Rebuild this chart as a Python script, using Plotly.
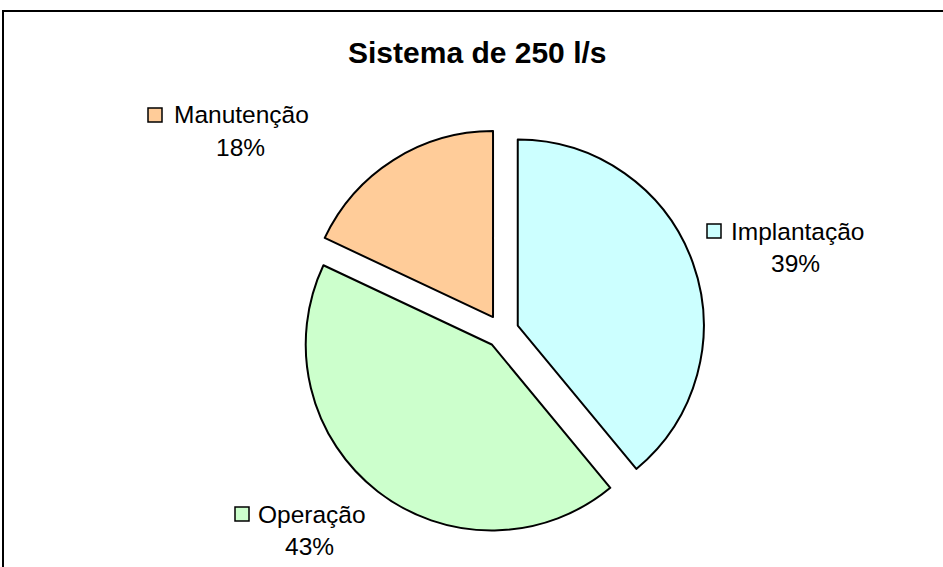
import plotly.graph_objects as go

# ---- data ----
categories = ["Implantação", "Operação", "Manutenção"]
values = [39, 43, 18]
colors = ["#CCFFFF", "#CCFFCC", "#FFCC99"]
title_text = "Sistema de 250 l/s"

W, H = 943, 567
total = sum(values)
percents = [f"{round(v / total * 100)}%" for v in values]


def px(x):
    return x / W


def py(y):
    return 1 - y / H


fig = go.Figure()
fig.add_trace(go.Pie(
    labels=categories,
    values=values,
    sort=False,
    direction="clockwise",
    rotation=0,
    pull=[0.09, 0.09, 0.09],
    marker=dict(colors=colors, line=dict(color="black", width=2)),
    textinfo="none",
    hoverinfo="label+percent",
    showlegend=False,
    domain=dict(x=[px(252), px(752)], y=[py(534), py(128.5)]),
))

# label layout (positions in pixels): key square, line-1 text start, line-2 center
label_layout = [
    # (square x0, square y0, text x, line1 y mid, line2 x center, line2 y mid)
    (707, 224, 729, 231, 795, 263),
    (235, 507, 256, 514, 309, 546),
    (148, 108, 172, 114, 241, 147),
]

font_family = "Liberation Sans, Arial, sans-serif"
annotations = []
shapes = []
for (sx, sy, tx, ty, cx, cy), lab, pct, col in zip(label_layout, categories, percents, colors):
    shapes.append(dict(type="rect", xref="paper", yref="paper",
                       x0=px(sx), x1=px(sx + 14), y0=py(sy), y1=py(sy + 14),
                       fillcolor=col, line=dict(color="black", width=1.5)))
    annotations.append(dict(text=lab, xref="paper", yref="paper", x=px(tx), y=py(ty),
                            xanchor="left", yanchor="middle", showarrow=False,
                            font=dict(family=font_family, size=24.5, color="black")))
    annotations.append(dict(text=pct, xref="paper", yref="paper", x=px(cx), y=py(cy),
                            xanchor="center", yanchor="middle", showarrow=False,
                            font=dict(family=font_family, size=24.5, color="black")))

annotations.append(dict(text=f"<b>{title_text}</b>", xref="paper", yref="paper",
                        x=px(477), y=py(53), xanchor="center", yanchor="middle",
                        showarrow=False,
                        font=dict(family=font_family, size=30, color="black")))

# chart frame
shapes.append(dict(type="rect", xref="paper", yref="paper",
                   x0=px(3), x1=px(W + 10), y0=py(H + 10), y1=py(11),
                   line=dict(color="black", width=2), fillcolor="rgba(0,0,0,0)"))

fig.update_layout(
    width=W, height=H,
    margin=dict(l=0, r=0, t=0, b=0),
    paper_bgcolor="white",
    plot_bgcolor="white",
    annotations=annotations,
    shapes=shapes,
)

fig.write_html(
    "out.html",
    config={"displayModeBar": False},
    post_script="document.body.style.margin='0';document.body.style.overflow='hidden';",
)
